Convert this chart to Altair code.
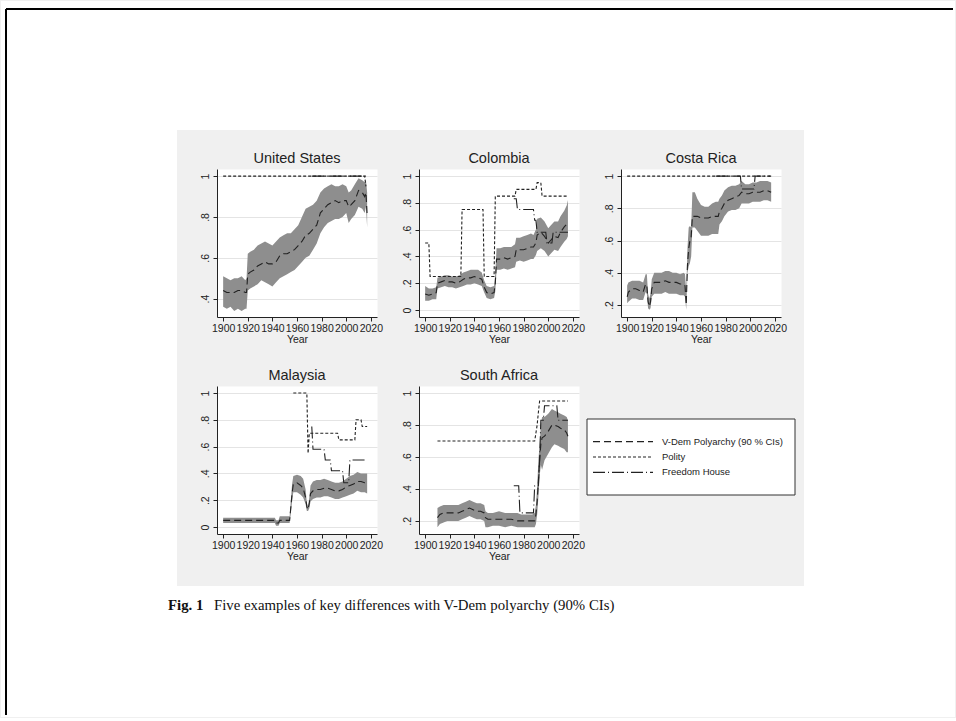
import altair as alt
import pandas as pd

# ---------------------------------------------------------------- data
SERIES = ["V-Dem Polyarchy (90 % CIs)", "Polity", "Freedom House"]
DASHES = [[7, 4], [3, 2], [12, 3, 1, 3]]

X_TICKS = [1900, 1920, 1940, 1960, 1980, 2000, 2020]

# United States
us_years = [1900, 1903, 1906, 1909, 1912, 1915, 1918, 1919, 1920, 1922, 1925, 1928, 1931, 1934,
            1937, 1940, 1943, 1946, 1949, 1952, 1955, 1958, 1961, 1964, 1967, 1970, 1973, 1976,
            1979, 1982, 1985, 1988, 1991, 1994, 1997, 2000, 2002, 2004, 2007, 2010, 2013, 2015,
            2016, 2017]
us_mid = [.44, .43, .43, .43, .44, .44, .43, .43, .52, .53, .54, .56, .57, .58, .57, .57, .58, .61,
          .62, .62, .63, .64, .66, .68, .71, .72, .74, .76, .82, .84, .86, .87, .88, .87, .88, .88,
          .85, .86, .88, .93, .92, .90, .92, .81]
us_lo = [.36, .35, .36, .34, .35, .34, .35, .35, .44, .45, .46, .47, .49, .48, .47, .46, .48, .50,
         .51, .52, .53, .54, .56, .58, .60, .61, .64, .67, .72, .75, .77, .78, .79, .79, .80, .82,
         .77, .79, .81, .85, .84, .82, .85, .75]
us_hi = [.51, .50, .49, .50, .50, .51, .49, .50, .62, .63, .64, .66, .67, .68, .67, .66, .68, .70,
         .71, .72, .72, .74, .76, .80, .84, .85, .86, .88, .92, .94, .95, .96, .95, .95, .96, .95,
         .92, .93, .96, .99, .98, .97, .98, .92]
us_polity_years = [1900, 2015, 2016]
us_polity = [1.0, 1.0, .95]
us_fh_years = [1972, 2017]
us_fh = [1.0, 1.0]

# Colombia
co_years = [1900, 1903, 1906, 1909, 1910, 1913, 1916, 1919, 1922, 1925, 1928, 1931, 1934, 1937,
            1940, 1943, 1946, 1948, 1950, 1953, 1956, 1957, 1958, 1961, 1964, 1967, 1970, 1973,
            1974, 1977, 1980, 1983, 1986, 1988, 1990, 1991, 1994, 1997, 2000, 2002, 2005, 2008,
            2010, 2013, 2015, 2016]
co_mid = [.12, .11, .12, .13, .20, .21, .22, .21, .21, .20, .21, .23, .24, .24, .25, .24, .23, .17,
          .13, .12, .13, .20, .38, .38, .39, .38, .39, .40, .45, .45, .45, .46, .47, .47, .50, .56,
          .58, .55, .50, .52, .55, .54, .58, .62, .64, .66]
co_lo = [.07, .07, .08, .08, .16, .17, .18, .17, .17, .16, .17, .18, .19, .19, .20, .19, .18, .13,
         .09, .08, .09, .14, .30, .30, .31, .30, .31, .32, .36, .37, .36, .37, .38, .38, .41, .44,
         .46, .44, .40, .42, .45, .44, .47, .51, .53, .55]
co_hi = [.18, .16, .16, .17, .24, .25, .26, .26, .25, .25, .26, .28, .29, .30, .30, .30, .28, .22,
         .18, .17, .18, .27, .46, .46, .47, .47, .47, .49, .54, .54, .55, .56, .57, .56, .60, .68,
         .69, .66, .61, .63, .66, .66, .70, .74, .78, .82]
co_polity_years = [1900, 1903, 1904, 1929, 1930, 1947, 1948, 1956, 1957, 1973, 1974, 1990, 1991,
                   1994, 1995, 2016]
co_polity = [.50, .50, .25, .25, .75, .75, .25, .25, .85, .85, .90, .90, .95, .95, .85, .85]
co_fh_years = [1972, 1974, 1975, 1988, 1989, 1990, 1991, 1998, 1999, 2003, 2004, 2016]
co_fh = [.83, .83, .75, .75, .67, .67, .58, .58, .50, .50, .58, .58]

# Costa Rica
cr_years = [1900, 1901, 1904, 1907, 1910, 1913, 1915, 1916, 1917, 1918, 1919, 1920, 1922, 1925,
            1928, 1931, 1934, 1937, 1940, 1943, 1946, 1947, 1948, 1949, 1950, 1951, 1952, 1953,
            1955, 1957, 1960, 1963, 1966, 1969, 1972, 1974, 1975, 1977, 1979, 1982, 1985, 1988,
            1991, 1993, 1996, 1999, 2002, 2005, 2008, 2011, 2014, 2017]
cr_mid = [.25, .28, .30, .30, .29, .28, .33, .32, .22, .19, .22, .30, .34, .34, .34, .35, .34, .34,
          .34, .33, .33, .32, .20, .45, .55, .60, .62, .75, .75, .75, .74, .74, .74, .75, .75, .75,
          .78, .80, .83, .85, .86, .87, .88, .90, .89, .89, .90, .90, .90, .91, .91, .90]
cr_lo = [.21, .22, .24, .24, .23, .23, .28, .27, .18, .17, .18, .25, .27, .27, .27, .28, .27, .27,
         .27, .26, .26, .25, .17, .40, .44, .46, .50, .68, .68, .66, .63, .63, .63, .64, .64, .64,
         .70, .72, .75, .78, .79, .79, .80, .83, .83, .83, .84, .84, .84, .85, .85, .84]
cr_hi = [.32, .34, .35, .35, .35, .34, .39, .39, .27, .24, .27, .36, .40, .40, .40, .41, .41, .40,
         .40, .39, .40, .39, .28, .55, .68, .69, .68, .90, .90, .86, .82, .81, .81, .83, .84, .84,
         .86, .88, .91, .93, .94, .94, .95, .97, .95, .95, .96, .96, .97, .97, .97, .96]
cr_polity_years = [1900, 2017]
cr_polity = [1.0, 1.0]
cr_fh_years = [1972, 1992, 1993, 2003, 2004, 2017]
cr_fh = [1.0, 1.0, .92, .92, 1.0, 1.0]

# Malaysia
my_years = [1900, 1910, 1920, 1930, 1940, 1942, 1943, 1945, 1946, 1950, 1954, 1955, 1956, 1957,
            1960, 1963, 1965, 1967, 1968, 1969, 1970, 1971, 1973, 1976, 1979, 1982, 1985, 1988,
            1991, 1994, 1997, 2000, 2003, 2006, 2009, 2012, 2015, 2017]
my_mid = [.05, .05, .05, .05, .05, .05, .03, .03, .05, .05, .05, .15, .25, .32, .33, .31, .29, .22,
          .15, .13, .18, .25, .27, .28, .28, .29, .29, .28, .27, .27, .28, .30, .31, .32, .34, .34,
          .33, .33]
my_lo = [.03, .03, .03, .03, .03, .03, .01, .01, .03, .03, .03, .10, .19, .26, .26, .24, .22, .17,
         .12, .12, .14, .19, .21, .22, .22, .23, .23, .22, .21, .21, .22, .23, .24, .25, .27, .26,
         .26, .25]
my_hi = [.07, .07, .07, .07, .07, .07, .05, .05, .08, .08, .08, .20, .32, .38, .39, .38, .36, .28,
         .18, .15, .22, .31, .34, .35, .35, .36, .35, .34, .33, .33, .34, .36, .38, .39, .41, .40,
         .40, .40]
my_polity_years = [1957, 1968, 1969, 1970, 1993, 1994, 2007, 2008, 2012, 2013, 2017]
my_polity = [1.0, 1.0, .55, .70, .70, .65, .65, .80, .80, .75, .75]
my_fh_years = [1972, 1973, 1982, 1983, 1987, 1988, 1997, 1998, 2002, 2003, 2017]
my_fh = [.75, .58, .58, .50, .50, .42, .42, .33, .33, .50, .50]

# South Africa
za_years = [1910, 1912, 1915, 1918, 1921, 1924, 1927, 1930, 1933, 1936, 1939, 1942, 1945, 1948,
            1949, 1951, 1955, 1960, 1965, 1970, 1975, 1978, 1981, 1984, 1987, 1989, 1990, 1991,
            1992, 1993, 1994, 1995, 1997, 2000, 2003, 2005, 2008, 2010, 2013, 2015, 2016]
za_mid = [.22, .24, .25, .25, .25, .25, .25, .26, .27, .28, .27, .26, .26, .25, .22, .21, .21, .21,
          .21, .21, .20, .20, .20, .20, .20, .20, .24, .32, .45, .58, .68, .72, .73, .76, .80, .80,
          .79, .78, .77, .75, .73]
za_lo = [.16, .18, .19, .20, .20, .20, .20, .21, .22, .23, .22, .21, .21, .20, .16, .16, .17, .17,
         .16, .17, .16, .16, .16, .16, .16, .16, .18, .24, .35, .48, .55, .52, .58, .62, .66, .68,
         .67, .66, .65, .63, .63]
za_hi = [.28, .29, .30, .30, .30, .30, .30, .31, .32, .33, .32, .31, .31, .30, .26, .25, .25, .26,
         .25, .25, .25, .24, .24, .24, .24, .25, .30, .41, .58, .68, .80, .85, .85, .87, .90, .89,
         .88, .87, .86, .85, .83]
za_polity_years = [1910, 1989, 1990, 1991, 1992, 1993, 2016]
za_polity = [.70, .70, .75, .80, .88, .95, .95]
za_fh_years = [1972, 1976, 1977, 1988, 1989, 1992, 1993, 1994, 1996, 1997, 2007, 2008, 2016]
za_fh = [.42, .42, .25, .25, .42, .42, .58, .83, .83, .92, .92, .83, .83]

# ---------------------------------------------------------------- styling
BAND = "#8e8e8e"
INK = "#222222"
PAGE_GRAY = "#f0f0f0"
SANS = "Liberation Sans"
SERIF = "Liberation Serif"
W, H = 160, 148
FS = 10.5

dash_scale = alt.Scale(domain=SERIES, range=DASHES)
ylabel = ("datum.value == 0 ? '0' : datum.value == 1 ? '1' : "
          "'.' + round(datum.value * 10)")


def country_panel(name, years, mid, lo, hi, p_years, p_vals, f_years, f_vals,
                  ydomain, yticks):
    ci = pd.DataFrame({"year": years, "lo": lo, "hi": hi})
    lines = pd.concat([
        pd.DataFrame({"year": years, "value": mid, "series": SERIES[0]}),
        pd.DataFrame({"year": p_years, "value": p_vals, "series": SERIES[1]}),
        pd.DataFrame({"year": f_years, "value": f_vals, "series": SERIES[2]}),
    ], ignore_index=True)

    xscale = alt.Scale(domain=[1895, 2025], nice=False, zero=False)
    xaxis = alt.Axis(values=X_TICKS, format="d", title="Year", grid=False,
                     labelFlush=False, labelOverlap=False, tickSize=4,
                     labelFontSize=FS, titleFontSize=FS,
                     labelPadding=2, titlePadding=1)
    yscale = alt.Scale(domain=ydomain, nice=False, zero=False)
    yaxis = alt.Axis(values=yticks, labelExpr=ylabel, labelAngle=270,
                     labelAlign="center", labelBaseline="bottom", grid=True,
                     labelOverlap=False, gridColor="#e4e4e4", tickSize=4,
                     labelFontSize=FS, labelPadding=3, title=None)

    band = alt.Chart(ci).mark_area(color=BAND, opacity=1).encode(
        x=alt.X("year:Q", scale=xscale, axis=xaxis),
        y=alt.Y("lo:Q", scale=yscale, axis=yaxis), y2="hi:Q")
    trend = alt.Chart(lines).mark_line(color=INK, strokeWidth=1.1).encode(
        x=alt.X("year:Q", scale=xscale, axis=xaxis),
        y=alt.Y("value:Q", scale=yscale, axis=yaxis),
        strokeDash=alt.StrokeDash("series:N", scale=dash_scale, legend=None))

    return alt.layer(band, trend).properties(
        width=W, height=H,
        title=alt.TitleParams(name, font=SANS, fontSize=14.5, fontWeight="normal",
                              color=INK, anchor="middle", frame="group", offset=3),
        view=alt.ViewBackground(fill="white", stroke="transparent"))


us = country_panel("United States", us_years, us_mid, us_lo, us_hi,
                   us_polity_years, us_polity, us_fh_years, us_fh,
                   [0.31, 1.035], [.4, .6, .8, 1])
co = country_panel("Colombia", co_years, co_mid, co_lo, co_hi,
                   co_polity_years, co_polity, co_fh_years, co_fh,
                   [-0.052, 1.052], [0, .2, .4, .6, .8, 1])
cr = country_panel("Costa Rica", cr_years, cr_mid, cr_lo, cr_hi,
                   cr_polity_years, cr_polity, cr_fh_years, cr_fh,
                   [0.125, 1.044], [.2, .4, .6, .8, 1])
my = country_panel("Malaysia", my_years, my_mid, my_lo, my_hi,
                   my_polity_years, my_polity, my_fh_years, my_fh,
                   [-0.052, 1.052], [0, .2, .4, .6, .8, 1])
za = country_panel("South Africa", za_years, za_mid, za_lo, za_hi,
                   za_polity_years, za_polity, za_fh_years, za_fh,
                   [0.118, 1.044], [.2, .4, .6, .8, 1])

# ---------------------------------------------------------------- key cell
# Drawn last, so it also carries the page frame: white margins around the grey
# figure area, the black page edge and the caption below the figure.
one = pd.DataFrame({"k": [0]})
keys = pd.DataFrame({"series": SERIES})


def block(x, x2, y, y2, fill, stroke="transparent", width=0):
    return alt.Chart(one).mark_rect(fill=fill, stroke=stroke, strokeWidth=width).encode(
        x=alt.value(x), x2=alt.value(x2), y=alt.value(y), y2=alt.value(y2))


def edge(x, x2, y, y2):
    return alt.Chart(one).mark_rule(color="black", strokeWidth=2).encode(
        x=alt.value(x), x2=alt.value(x2), y=alt.value(y), y2=alt.value(y2))


RIGHT, BOTTOM = 334, 331          # outer page extent, key-cell coordinates
margins = [
    block(-620, -444, -385, BOTTOM, "white"),
    block(183, RIGHT, -385, BOTTOM, "white"),
    block(-620, RIGHT, -385, -256, "white"),
    block(-620, RIGHT, 200, BOTTOM, "white"),
]
page_edges = [edge(-615, RIGHT - 2, -377, -377), edge(-615, -615, -377, BOTTOM - 2)]

caption_label = alt.Chart(one).mark_text(
    text="Fig. 1", font=SERIF, fontSize=14.8, fontWeight="bold", align="left",
    baseline="middle", color="#111").encode(x=alt.value(-453), y=alt.value(220))
caption_text = alt.Chart(one).mark_text(
    text="Five examples of key differences with V-Dem polyarchy (90% CIs)",
    font=SERIF, fontSize=14.8, align="left", baseline="middle", color="#111").encode(
    x=alt.value(-407), y=alt.value(220))

key_box = block(-34, 174, 33, 109, "white", stroke="#333333", width=1)
key_y = alt.Y("series:N", sort=SERIES,
              scale=alt.Scale(domain=SERIES, range=[48, 94], padding=0), axis=None)
key_lines = alt.Chart(keys).mark_rule(color=INK, strokeWidth=1.1).encode(
    x=alt.value(-28), x2=alt.value(32), y=key_y,
    strokeDash=alt.StrokeDash("series:N", scale=dash_scale, legend=None))
key_text = alt.Chart(keys).mark_text(
    font=SANS, fontSize=9.5, align="left", baseline="middle", color=INK).encode(
    x=alt.value(41), y=key_y, text="series:N")

key_cell = alt.layer(*margins, *page_edges, caption_label, caption_text,
                     key_box, key_lines, key_text).properties(
    width=W, height=H, view=alt.ViewBackground(fill="transparent", stroke="transparent"))

# ---------------------------------------------------------------- layout
chart = alt.concat(
    us, co, cr, my, za, key_cell,
    columns=3, spacing={"row": 69, "column": 42}, bounds="flush",
).properties(
    background=PAGE_GRAY, padding=0,
).configure_view(
    stroke="transparent",
).configure_axis(
    domainColor=INK, tickColor=INK, labelColor=INK, titleColor=INK,
    labelFont=SANS, titleFont=SANS, labelFontSize=FS, titleFontSize=FS,
    titleFontWeight="normal", domainWidth=1, tickWidth=1, labelOverlap=False,
    labelSeparation=0,
)

chart.save("out.html", embed_options={"renderer": "svg", "actions": False})
